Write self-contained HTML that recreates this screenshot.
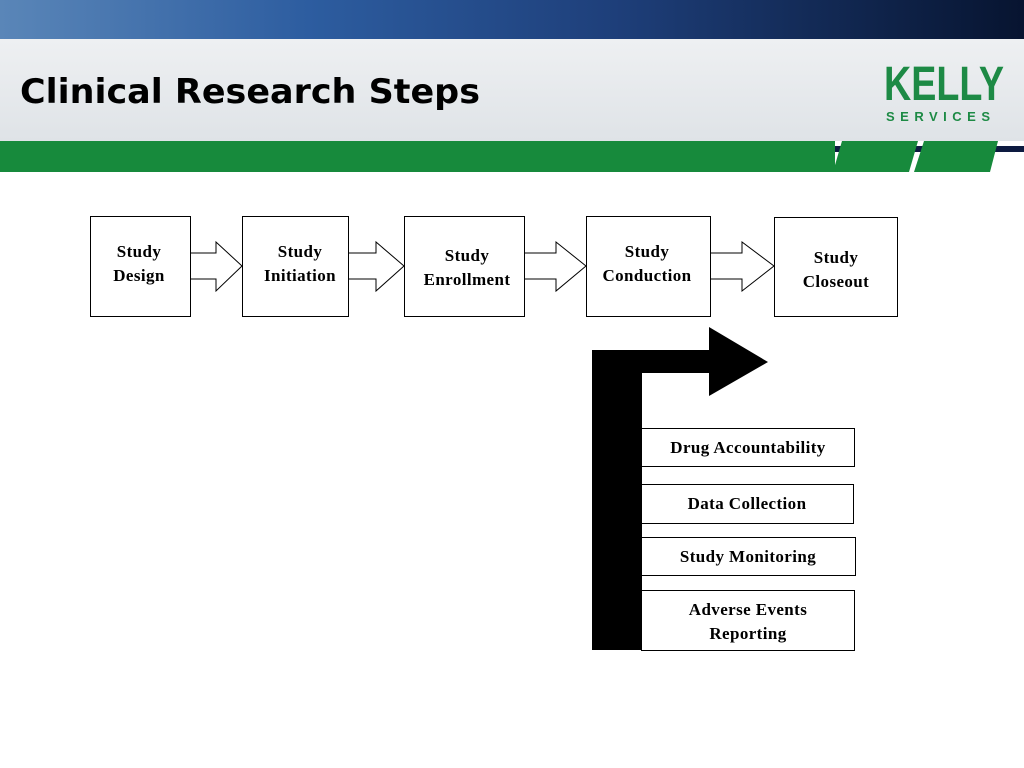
<!DOCTYPE html>
<html><head><meta charset="utf-8"><style>
html,body{margin:0;padding:0;background:#fff;width:1024px;height:768px;overflow:hidden}
</style></head><body>
<svg width="1024" height="768" xmlns="http://www.w3.org/2000/svg">
<defs>
<linearGradient id="sky" x1="0" y1="0" x2="1" y2="0">
<stop offset="0" stop-color="#5a86b8"/><stop offset="0.3" stop-color="#2d5da0"/><stop offset="0.6" stop-color="#1e3f7a"/><stop offset="1" stop-color="#071430"/>
</linearGradient>
<linearGradient id="band" x1="0" y1="0" x2="0" y2="1">
<stop offset="0" stop-color="#eef0f2"/><stop offset="1" stop-color="#dfe3e7"/>
</linearGradient>
</defs>
<rect x="0" y="0" width="1024" height="39" fill="url(#sky)"/>
<rect x="0" y="39" width="1024" height="102" fill="url(#band)"/>
<rect x="0" y="141" width="835" height="31" fill="#178a3c"/>
<rect x="835" y="146" width="189" height="6" fill="#0d1a40"/>
<polygon points="842,141 918,141 909,172 833,172" fill="#178a3c"/>
<polygon points="924,141 998,141 990,172 914,172" fill="#178a3c"/>
<text x="20" y="103" font-family="'DejaVu Sans', 'Liberation Sans', sans-serif" font-weight="bold" font-size="34" fill="#000" textLength="460" lengthAdjust="spacingAndGlyphs">Clinical Research Steps</text>
<text x="884" y="100" font-family="'Liberation Sans', sans-serif" font-weight="bold" font-size="48" fill="#1d8a45" textLength="120" lengthAdjust="spacingAndGlyphs">KELLY</text>
<text x="886" y="121" font-family="'Liberation Sans', sans-serif" font-weight="bold" font-size="13" fill="#1d8a45" textLength="104" lengthAdjust="spacing">SERVICES</text>

<g fill="#fff" stroke="#000" stroke-width="1">
<polygon points="190,253 216,253 216,242 242,266 216,291 216,279 190,279"/>
<polygon points="348,253 376,253 376,242 404,266 376,291 376,279 348,279"/>
<polygon points="523,253 556,253 556,242 586,266 556,291 556,279 523,279"/>
<polygon points="710,253 742,253 742,242 774,266 742,291 742,279 710,279"/>
<rect x="90.5" y="216.5" width="100" height="100"/>
<rect x="242.5" y="216.5" width="106" height="100"/>
<rect x="404.5" y="216.5" width="120" height="100"/>
<rect x="586.5" y="216.5" width="124" height="100"/>
<rect x="774.5" y="217.5" width="123" height="99"/>
</g>
<polygon points="592,350 709,350 709,327 768,362 709,396 709,373 642,373 642,650 592,650" fill="#000"/>
<g fill="#fff" stroke="#000" stroke-width="1">
<rect x="641.5" y="428.5" width="213" height="38"/>
<rect x="641.5" y="484.5" width="212" height="39"/>
<rect x="641.5" y="537.5" width="214" height="38"/>
<rect x="641.5" y="590.5" width="213" height="60"/>
</g>
<g font-family="'Liberation Serif', serif" font-weight="bold" font-size="17" fill="#000" text-anchor="middle" letter-spacing="0.4">
<text x="139" y="257">Study</text><text x="139" y="281">Design</text>
<text x="300" y="257">Study</text><text x="300" y="281">Initiation</text>
<text x="467" y="261">Study</text><text x="467" y="285">Enrollment</text>
<text x="647" y="257">Study</text><text x="647" y="281">Conduction</text>
<text x="836" y="263">Study</text><text x="836" y="287">Closeout</text>
<text x="748" y="453">Drug Accountability</text>
<text x="747" y="509">Data Collection</text>
<text x="748" y="562">Study Monitoring</text>
<text x="748" y="615">Adverse Events</text>
<text x="748" y="639">Reporting</text>
</g>
</svg>
</body></html>
